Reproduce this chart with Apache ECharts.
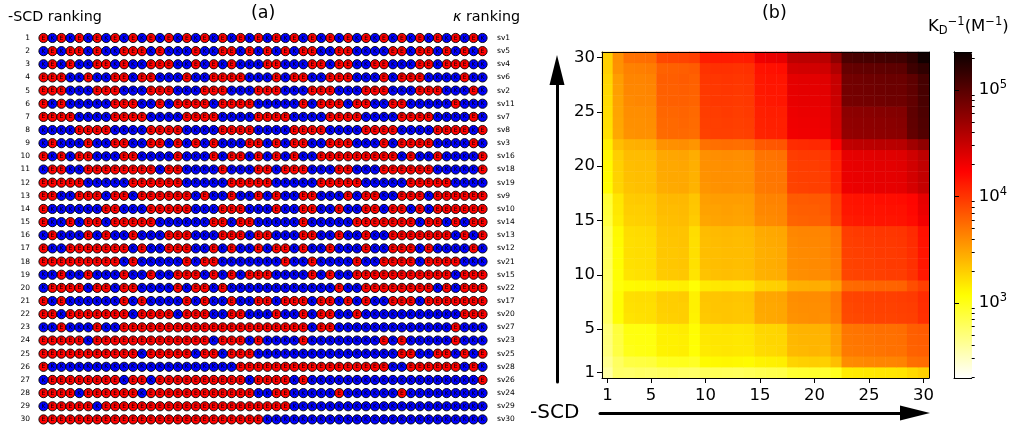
<!DOCTYPE html>
<html><head><meta charset="utf-8">
<script src="https://cdn.jsdelivr.net/npm/echarts@6/dist/echarts.min.js"></script>
<style>html,body{margin:0;padding:0;background:#fff}#c{width:1010px;height:426px}</style>
</head><body><div id="c"></div>
<script>
// ---------- panel (a) data ----------
const rowNumbers = ['1','2','3','4','5','6','7','8','9','10','11','12','13','14','15','16','17','18','19','20','21','22','23','24','25','26','27','28','29','30'];
const svLabels = ['sv1','sv5','sv4','sv6','sv2','sv11','sv7','sv8','sv3','sv16','sv18','sv19','sv9','sv10','sv14','sv13','sv12','sv21','sv15','sv22','sv17','sv20','sv27','sv23','sv25','sv28','sv26','sv24','sv29','sv30'];
const sequences = [
'EKEKEKEKEKEKEKEKEKEKEKEKEKEKEKEKEKEKEKEKEKEKEKEKEK',
'KEKEEKEKKEEEKEKKKEKKEEKEKEKEKEEKKEEKKKKEEKEEKEKEKE',
'KEKEKKEEKEKKEEEKKEKEKEKKKEEKKKEEKEEKKEEKKKEEKEEEKK',
'EEEKKEKKEEKEEKKKEKKEEEEKKKEKEEKKEEEKKKEKEEEKKKKEKK',
'EEEKKKEEEKKKEEEKKKEEEKKKEEEKKKEEEKKKEEEKKKEEEKKKEK',
'EKEKKKKKEEEKKEKEEEEKEEEEKKKKKEKEEEKEEKKEEKKKKKEKKK',
'EEEEKKKKEEEEKKKKEEEEKKKKEEEEKKKKEEEEKKKKEEEEKKKKEK',
'KKKKEEEEKKKKEEEEKKKKEEEEKKKKEEEEKKKKEEEEKKKKEEEEKE',
'KEKKKEKKEEKKEEKEKEKEKKKEEKEKEEKKEEEKKKEKEEEEKKKKEK',
'EKEKEEKKKEEKKKKEKKKEKEEKEKEKEKKEEEEEEEEEKEKKEKKKKE',
'KEEKKEEEEEEEEKEEKKKKEKKKEEKEEEKKKEEKKKEEEEEEKKKKKE',
'EEEEEKKKKKEEEEEEKKKKKEEEEEKKKKKEEEEEKKKKKEEEEEKKKK',
'EEKKEEEKEEKEEEEEEKEKKEKKEKEKKEEKKKEKEEKKEEEKEEEEEE',
'EKKKKKKEEKKKEEEEEKKKEEEKKKEKKEEKKEKKEEKEEKEKEEEEEE',
'EKKEKEEKEEEEEKKKKKKEEKEEKKKKKEKKKKKEEEEEEEKEEKEKEE',
'KEKKKEKEKKEKKKEEEKKKEEEKEEKKKEEKKEKKEKKEEEEEEEKEKE',
'EKKEEEEEEEKEKKEEEKKEKEKKEKEEKEKKEKKKEKKEEEKEKKKKEK',
'EEEEEEEEEKEKKKKKEKEEKKKKKKKEKKEKKKKEKKEEEEKEEEEKKK',
'KKEKKEKKKEKKEKKEEEKEKEKEEEKKKKEKEKKEEEEEEEEEEEKEEE',
'KEEEEKEEKEEKKKKEKEEKEKKKKKKKKKKKKEKKEEEEEEEEKEKEEE',
'EKEKKKKKKEKEKKKKEKEKKEKKEEKEEEKEEKEKEKKEEEKEEEEEEE',
'EEKEEEEEEEKEEEEKEEEKKEEKKKEKKEKEEKKEKKKKKKKKKKKEEE',
'KKEKKKEKKEEEEEEEEEEEEEEEEEEEEEKEEKKKKKKKKKKKKKEKKK',
'EEEEEKEEEEEEEEEEEEEKEEEKEKKKKEKKKKKKKKEKEKKKKKEKKK',
'EEEEEEEEEEEKEEEEEKEEKEEEKKKKKKKKKKKKKKKKEEKKEEKEKE',
'EKKKKKKKKKKKKKKKKKKKKKEEEEEEEEEEEEEEEEEKKEEEEEEKEK',
'KEEEEEEEEKEEKEEEEEEEEEEKEEEEKEKKKKKKKKKKKKKKKKKKKE',
'EEEEKEEEEEEKEEEEEEEEEEEEKKEEKKKKKEKKKKKKEKKKKKKKKK',
'KEEEEEKEEEEEEEEEEEEEEEEEEEEEKKKKKKKKKKKKKKKKKKKKKK',
'EEEEEEEEEEEEEEEEEEEEEEEEEKKKKKKKKKKKKKKKKKKKKKKKKK'
];

// ---------- panel (b) data ----------
const scdRanks = ['1','2','3','4','5','6','7','8','9','10','11','12','13','14','15','16','17','18','19','20','21','22','23','24','25','26','27','28','29','30'];
const shownRanks = ['1','5','10','15','20','25','30'];
// log10(K_D^-1 / M^-1); row index = y rank (1 at bottom), column index = x rank
const logKD = [
[2.58,2.76,2.75,2.77,2.76,2.78,2.79,2.77,2.76,2.80,2.81,2.80,2.79,2.81,2.83,2.84,2.85,2.92,2.93,2.94,2.93,2.98,3.16,3.17,3.18,3.19,3.19,3.20,3.25,3.29],
[2.64,2.78,2.87,2.88,2.89,2.97,2.98,2.99,2.96,3.09,3.10,3.11,3.10,3.09,3.13,3.14,3.15,3.27,3.29,3.30,3.29,3.37,3.60,3.61,3.62,3.63,3.63,3.64,3.73,3.74],
[2.69,2.87,3.00,3.02,3.03,3.13,3.14,3.15,3.06,3.17,3.18,3.19,3.18,3.18,3.24,3.25,3.26,3.39,3.40,3.41,3.40,3.50,3.68,3.69,3.70,3.71,3.72,3.72,3.79,3.80],
[2.70,2.88,3.02,3.03,3.03,3.14,3.14,3.15,3.07,3.18,3.19,3.19,3.18,3.19,3.25,3.26,3.26,3.40,3.41,3.41,3.41,3.51,3.69,3.70,3.71,3.72,3.72,3.73,3.80,3.81],
[2.70,2.89,3.03,3.03,3.04,3.14,3.15,3.16,3.08,3.19,3.19,3.20,3.19,3.20,3.26,3.26,3.27,3.41,3.42,3.42,3.42,3.52,3.70,3.71,3.72,3.73,3.73,3.74,3.81,3.82],
[2.77,3.07,3.20,3.21,3.22,3.28,3.29,3.30,3.13,3.32,3.33,3.34,3.33,3.33,3.46,3.47,3.48,3.57,3.58,3.59,3.58,3.66,3.90,3.91,3.92,3.93,3.93,3.94,3.95,4.02],
[2.78,3.08,3.21,3.22,3.22,3.29,3.30,3.30,3.14,3.33,3.34,3.34,3.33,3.34,3.47,3.47,3.48,3.58,3.59,3.59,3.59,3.67,3.91,3.92,3.93,3.94,3.94,3.95,3.96,4.03],
[2.78,3.08,3.22,3.23,3.23,3.30,3.30,3.31,3.14,3.34,3.34,3.35,3.34,3.35,3.48,3.48,3.49,3.59,3.60,3.60,3.60,3.68,3.92,3.93,3.94,3.95,3.95,3.96,3.97,4.04],
[2.77,3.05,3.09,3.10,3.11,3.13,3.14,3.15,3.06,3.17,3.18,3.19,3.18,3.19,3.28,3.29,3.30,3.43,3.44,3.45,3.44,3.51,3.75,3.76,3.77,3.78,3.78,3.79,3.88,3.95],
[2.79,3.07,3.20,3.21,3.22,3.31,3.32,3.33,3.20,3.35,3.36,3.37,3.36,3.37,3.43,3.44,3.45,3.58,3.59,3.60,3.60,3.65,3.92,3.93,3.94,3.95,3.96,3.96,4.01,4.13],
[2.80,3.08,3.21,3.22,3.23,3.32,3.33,3.34,3.21,3.36,3.37,3.38,3.37,3.38,3.44,3.45,3.46,3.59,3.60,3.61,3.61,3.66,3.93,3.94,3.95,3.96,3.97,3.97,4.02,4.14],
[2.80,3.08,3.22,3.23,3.23,3.33,3.33,3.34,3.22,3.37,3.37,3.38,3.38,3.38,3.44,3.45,3.46,3.60,3.61,3.61,3.62,3.67,3.94,3.95,3.96,3.97,3.97,3.98,4.03,4.15],
[2.81,3.09,3.22,3.23,3.24,3.33,3.34,3.35,3.22,3.37,3.38,3.39,3.38,3.39,3.45,3.46,3.47,3.61,3.62,3.62,3.62,3.68,3.95,3.96,3.97,3.98,3.98,3.99,4.04,4.16],
[2.82,3.10,3.23,3.24,3.25,3.34,3.35,3.35,3.23,3.38,3.39,3.40,3.39,3.40,3.46,3.47,3.48,3.62,3.63,3.63,3.63,3.69,3.96,3.97,3.98,3.99,3.99,4.00,4.05,4.17],
[2.88,3.16,3.28,3.29,3.30,3.36,3.37,3.38,3.31,3.48,3.49,3.50,3.49,3.50,3.60,3.61,3.62,3.78,3.79,3.80,3.80,3.93,4.12,4.13,4.14,4.15,4.15,4.16,4.19,4.30],
[2.90,3.18,3.30,3.30,3.31,3.38,3.38,3.39,3.33,3.50,3.50,3.51,3.50,3.51,3.62,3.62,3.63,3.80,3.81,3.81,3.82,3.95,4.14,4.15,4.16,4.16,4.17,4.17,4.21,4.33],
[2.92,3.19,3.31,3.32,3.32,3.39,3.40,3.40,3.34,3.51,3.52,3.52,3.52,3.52,3.63,3.64,3.64,3.82,3.82,3.83,3.83,3.96,4.15,4.16,4.17,4.18,4.18,4.19,4.22,4.35],
[3.08,3.27,3.35,3.36,3.37,3.45,3.46,3.47,3.42,3.56,3.57,3.58,3.57,3.58,3.68,3.69,3.70,3.93,3.94,3.95,3.95,4.07,4.32,4.33,4.34,4.35,4.35,4.36,4.43,4.51],
[3.09,3.28,3.36,3.37,3.37,3.46,3.47,3.47,3.43,3.57,3.58,3.58,3.58,3.58,3.69,3.70,3.70,3.94,3.95,3.95,3.96,4.08,4.33,4.34,4.35,4.36,4.36,4.37,4.44,4.52],
[3.10,3.29,3.37,3.38,3.38,3.47,3.47,3.48,3.44,3.58,3.58,3.59,3.58,3.59,3.70,3.70,3.71,3.95,3.96,3.96,3.97,4.09,4.34,4.35,4.36,4.37,4.37,4.38,4.45,4.53],
[3.11,3.30,3.38,3.38,3.39,3.47,3.48,3.49,3.45,3.58,3.59,3.60,3.59,3.60,3.71,3.71,3.72,3.96,3.97,3.97,3.98,4.10,4.35,4.36,4.37,4.38,4.38,4.39,4.46,4.54],
[3.14,3.37,3.43,3.44,3.45,3.57,3.58,3.59,3.56,3.72,3.73,3.74,3.73,3.74,3.83,3.84,3.85,4.04,4.05,4.06,4.06,4.24,4.53,4.54,4.55,4.56,4.56,4.57,4.67,4.75],
[3.21,3.47,3.57,3.58,3.58,3.75,3.76,3.76,3.74,3.94,3.95,3.95,3.94,3.95,4.08,4.09,4.10,4.30,4.31,4.31,4.32,4.44,4.73,4.74,4.75,4.76,4.77,4.78,4.95,5.03],
[3.22,3.48,3.58,3.58,3.59,3.76,3.76,3.77,3.75,3.95,3.95,3.96,3.95,3.96,4.09,4.10,4.10,4.31,4.32,4.32,4.33,4.45,4.74,4.75,4.76,4.77,4.78,4.79,4.96,5.04],
[3.23,3.49,3.59,3.59,3.60,3.77,3.77,3.78,3.76,3.96,3.96,3.97,3.96,3.97,4.10,4.11,4.11,4.32,4.33,4.33,4.34,4.46,4.76,4.77,4.78,4.79,4.80,4.81,4.97,5.05],
[3.24,3.50,3.61,3.62,3.62,3.79,3.80,3.80,3.78,3.97,3.98,3.98,3.97,3.98,4.12,4.13,4.14,4.34,4.35,4.35,4.36,4.48,4.86,4.87,4.88,4.89,4.90,4.90,4.96,5.07],
[3.25,3.51,3.62,3.62,3.63,3.80,3.80,3.81,3.79,3.98,3.98,3.99,3.98,3.99,4.13,4.14,4.14,4.35,4.36,4.36,4.37,4.49,4.87,4.88,4.89,4.90,4.91,4.91,4.97,5.08],
[3.26,3.52,3.63,3.63,3.64,3.81,3.81,3.82,3.80,3.99,3.99,4.00,3.99,4.00,4.14,4.15,4.15,4.36,4.37,4.37,4.38,4.50,4.88,4.89,4.90,4.91,4.92,4.92,4.98,5.09],
[3.29,3.57,3.65,3.66,3.67,3.79,3.80,3.81,3.82,4.01,4.02,4.02,4.01,4.02,4.16,4.17,4.18,4.44,4.45,4.45,4.46,4.60,4.94,4.95,4.96,4.97,4.98,4.99,5.12,5.19],
[3.29,3.58,3.72,3.73,3.74,3.91,3.92,3.93,3.95,4.11,4.12,4.12,4.11,4.12,4.31,4.33,4.35,4.54,4.55,4.55,4.56,4.75,5.05,5.07,5.08,5.09,5.10,5.11,5.19,5.33]
];
const colorbarRange = [2.296, 5.357];   // log10 limits of the colour scale
const colorbarMajor = [3, 4, 5];

// ---------- build ----------
const FONT = 'DejaVu Sans';
const eData = [], kData = [];
sequences.forEach((s, r) => {
  for (let p = 0; p < s.length; p++) (s[p] === 'E' ? eData : kData).push([p + 1, r]);
});
const heatData = [];
logKD.forEach((row, y) => row.forEach((v, x) => heatData.push([x, y, v])));

// matplotlib hot_r colormap
function hotR(t) {
  const s = 1 - t;
  const r = s < 0.365079 ? 0.0416 + (1 - 0.0416) * s / 0.365079 : 1;
  const g = s < 0.365079 ? 0 : (s < 0.746032 ? (s - 0.365079) / (0.746032 - 0.365079) : 1);
  const b = s < 0.746032 ? 0 : (s - 0.746032) / (1 - 0.746032);
  const h = v => Math.round(Math.max(0, Math.min(1, v)) * 255).toString(16).padStart(2, '0');
  return '#' + h(r) + h(g) + h(b);
}
const hotColors = [];
for (let i = 0; i <= 96; i++) hotColors.push(hotR(i / 96));

const minorTicks = [];
for (let k = 2; k <= 5; k++) for (let m = 2; m <= 9; m++) {
  const v = k + Math.log10(m);
  if (v >= colorbarRange[0] && v <= colorbarRange[1]) minorTicks.push(v);
}
const shownIdx = shownRanks.map(s => scdRanks.indexOf(s));
const showFn = (i) => shownIdx.indexOf(i) >= 0;

const blackLine = { show: true, lineStyle: { color: '#000', width: 1 } };
const none = { show: false };
const supRich = {
  b: { fontSize: 16.5, fontFamily: FONT, color: '#000' },
  sup: { fontSize: 11.5, fontFamily: FONT, color: '#000', padding: [0, 0, 10, 0] },
  sub: { fontSize: 11.5, fontFamily: FONT, color: '#000', padding: [9, 0, 0, 0] },
  i: { fontSize: 14.3, fontFamily: FONT, fontStyle: 'italic', color: '#000' }
};

const chart = echarts.init(document.getElementById('c'), null, { renderer: 'canvas' });
chart.setOption({
  animation: false,
  textStyle: { fontFamily: FONT },
  title: [
    { text: '-SCD ranking', left: 8, top: 10, padding: 0, textStyle: { fontSize: 14.3, fontWeight: 'normal', color: '#000', fontFamily: FONT } },
    { text: '(a)', left: 251, top: 4, padding: 0, textStyle: { fontSize: 17.5, fontWeight: 'normal', color: '#000', fontFamily: FONT } },
    { text: '{i|κ} ranking', left: 453, top: 10, padding: 0, textStyle: { fontSize: 14.3, fontWeight: 'normal', color: '#000', fontFamily: FONT, rich: supRich } },
    { text: '(b)', left: 762, top: 4, padding: 0, textStyle: { fontSize: 17.5, fontWeight: 'normal', color: '#000', fontFamily: FONT } },
    { text: '{b|K}{sub|D}{sup|−1}{b|(M}{sup|−1}{b|)}', left: 928, top: 16, padding: 0, textStyle: { fontSize: 16.5, fontWeight: 'normal', color: '#000', fontFamily: FONT, rich: supRich } },
    { text: '-SCD', left: 530, top: 403, padding: 0, textStyle: { fontSize: 20, fontWeight: 'normal', color: '#000', fontFamily: FONT } }
  ],
  grid: [
    { left: 39, top: 31.4, width: 448, height: 396 },
    { left: 602, top: 52, width: 327, height: 326 },
    { left: 954, top: 52, width: 18, height: 326 },
    { left: 557, top: 70, width: 10, height: 312 },
    { left: 600, top: 412, width: 315, height: 1 }
  ],
  xAxis: [
    { gridIndex: 0, type: 'value', min: 0.5, max: 50.5, show: false },
    { gridIndex: 1, type: 'category', data: scdRanks, position: 'bottom', z: 6,
      axisLine: blackLine, splitLine: none,
      axisTick: { show: true, alignWithLabel: true, interval: showFn, length: 5, lineStyle: { color: '#000' } },
      axisLabel: { interval: showFn, fontSize: 16.5, color: '#000', margin: 9, fontFamily: FONT } },
    { gridIndex: 1, type: 'value', min: 0, max: 1, position: 'top', z: 6, axisLine: blackLine, axisTick: none, axisLabel: none, splitLine: none },
    { gridIndex: 2, type: 'value', min: 0, max: 1, position: 'bottom', z: 6, axisLine: blackLine, axisTick: none, axisLabel: none, splitLine: none },
    { gridIndex: 2, type: 'value', min: 0, max: 1, position: 'top', z: 6, axisLine: blackLine, axisTick: none, axisLabel: none, splitLine: none },
    { gridIndex: 3, type: 'value', show: false },
    { gridIndex: 4, type: 'value', min: 0, max: 1, position: 'bottom',
      axisLine: { show: true, symbol: ['none', 'triangle'], symbolSize: [15, 30], lineStyle: { color: '#000', width: 3 } },
      axisTick: none, axisLabel: none, splitLine: none }
  ],
  yAxis: [
    { gridIndex: 0, type: 'category', data: rowNumbers, inverse: true, position: 'left',
      axisLine: none, axisTick: none, splitLine: none,
      axisLabel: { fontSize: 7.5, color: '#000', margin: 9, interval: 0, fontFamily: FONT } },
    { gridIndex: 0, type: 'category', data: svLabels, inverse: true, position: 'right',
      axisLine: none, axisTick: none, splitLine: none,
      axisLabel: { fontSize: 7.5, color: '#000', margin: 10, interval: 0, fontFamily: FONT } },
    { gridIndex: 1, type: 'category', data: scdRanks, position: 'left', z: 6,
      axisLine: blackLine, splitLine: none,
      axisTick: { show: true, alignWithLabel: true, interval: showFn, length: 5, lineStyle: { color: '#000' } },
      axisLabel: { interval: showFn, fontSize: 16.5, color: '#000', margin: 7, fontFamily: FONT } },
    { gridIndex: 1, type: 'value', min: 0, max: 1, position: 'right', z: 6, axisLine: blackLine, axisTick: none, axisLabel: none, splitLine: none },
    { gridIndex: 2, type: 'value', min: colorbarRange[0], max: colorbarRange[1], position: 'left', z: 6, axisLine: blackLine, axisTick: none, axisLabel: none, splitLine: none },
    { gridIndex: 2, type: 'value', min: colorbarRange[0], max: colorbarRange[1], position: 'right', z: 6,
      axisLine: blackLine, splitLine: none,
      axisTick: { show: true, customValues: colorbarMajor, length: 5, lineStyle: { color: '#000' } },
      axisLabel: { show: true, customValues: colorbarMajor, margin: 7, formatter: v => '{b|10}{sup|' + Math.round(v) + '}', rich: supRich } },
    { gridIndex: 2, type: 'value', min: colorbarRange[0], max: colorbarRange[1], position: 'right', z: 6,
      axisLine: none, splitLine: none, axisLabel: none,
      axisTick: { show: true, customValues: minorTicks, length: 3, lineStyle: { color: '#000' } } },
    { gridIndex: 3, type: 'value', min: 0, max: 1, position: 'left',
      axisLine: { show: true, symbol: ['none', 'triangle'], symbolSize: [15, 30], lineStyle: { color: '#000', width: 3 } },
      axisTick: none, axisLabel: none, splitLine: none },
    { gridIndex: 4, type: 'value', show: false }
  ],
  visualMap: {
    type: 'continuous', seriesIndex: 2, min: colorbarRange[0], max: colorbarRange[1],
    left: 954, top: 52, itemWidth: 18, itemHeight: 326, padding: 0,
    calculable: false, hoverLink: false, orient: 'vertical', show: true,
    inRange: { color: hotColors }
  },
  series: [
    { type: 'scatter', xAxisIndex: 0, yAxisIndex: 0, data: eData, symbol: 'circle', symbolSize: 9.2, silent: true,
      itemStyle: { color: '#ff0000', borderColor: '#000', borderWidth: 0.9, opacity: 1 },
      label: { show: true, position: 'inside', formatter: 'E', fontSize: 6, color: '#000', fontFamily: FONT } },
    { type: 'scatter', xAxisIndex: 0, yAxisIndex: 0, data: kData, symbol: 'circle', symbolSize: 9.2, silent: true,
      itemStyle: { color: '#0000ff', borderColor: '#000', borderWidth: 0.9, opacity: 1 },
      label: { show: true, position: 'inside', formatter: 'K', fontSize: 6, color: '#000', fontFamily: FONT } },
    { type: 'heatmap', xAxisIndex: 1, yAxisIndex: 2, data: heatData, silent: true,
      itemStyle: { borderWidth: 0 }, emphasis: { disabled: true }, progressive: 0 }
  ]
});
</script>
</body></html>
